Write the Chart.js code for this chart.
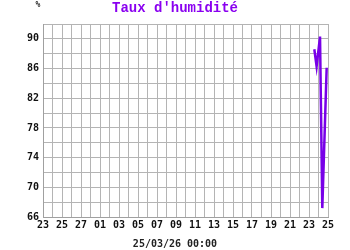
<!DOCTYPE html>
<html>
<head>
<meta charset="utf-8">
<script src="https://cdn.jsdelivr.net/npm/chart.js@4"></script>
<style>
html,body{margin:0;padding:0;background:#fff;}
#c{display:block;}
</style>
</head>
<body>
<canvas id="c" width="350" height="250"></canvas>
<script>
// Day labels from 23 Feb to 25 Mar 2026 (one grid cell per day)
const dayLabels = ['23','24','25','26','27','28','01','02','03','04','05','06','07','08','09','10',
  '11','12','13','14','15','16','17','18','19','20','21','22','23','24','25'];
// Humidity readings: x = days since 23 Feb 00:00, y = %
const timeValues = [28.56, 28.80, 29.16, 29.40, 29.86];
const humidityValues = [88.6, 86.3, 90.3, 67.2, 86.1];
const yMin = 66, yMax = 92;
const titleText = "Taux d'humidité";
const unitText = '%';
const dateText = '25/03/26 00:00';

const points = timeValues.map((t, i) => ({x: t, y: humidityValues[i]}));

const textPlugin = {
  id: 'texts',
  afterDraw(chart) {
    const ctx = chart.ctx;
    ctx.save();
    ctx.textAlign = 'center';
    ctx.textBaseline = 'middle';
    ctx.fillStyle = '#8a00f0';
    ctx.font = 'bold 14px "Liberation Mono", monospace';
    ctx.fillText(titleText, 175, 8);
    ctx.fillStyle = '#222';
    ctx.font = 'bold 8px "DejaVu Sans Mono", monospace';
    ctx.fillText(unitText, 38, 5);
    ctx.font = 'bold 10px "DejaVu Sans Mono", monospace';
    ctx.fillText(dateText, 175, 244);
    ctx.restore();
  }
};

new Chart(document.getElementById('c'), {
  type: 'line',
  data: {
    datasets: [{
      data: points,
      borderColor: '#7800e8',
      borderWidth: 2.5,
      pointRadius: 0,
      tension: 0,
      fill: false
    }]
  },
  options: {
    responsive: false,
    animation: false,
    devicePixelRatio: 1,
    layout: {padding: {top: 24, left: 0, right: 22, bottom: 0}},
    plugins: {legend: {display: false}, title: {display: false}, tooltip: {enabled: false}},
    scales: {
      x: {
        type: 'linear',
        min: 0,
        max: dayLabels.length - 1,
        afterFit(s) { s.height = 33; },
        afterBuildTicks(s) {
          s.ticks = dayLabels.map((_, i) => ({value: i}));
        },
        ticks: {
          autoSkip: false,
          maxRotation: 0,
          padding: 2,
          color: '#111',
          font: {family: '"DejaVu Sans Mono", monospace', size: 10, weight: 'bold'},
          callback: (v) => (v % 2 === 0 ? dayLabels[v] : '')
        },
        grid: {color: '#b4b4b4', lineWidth: 1, drawTicks: false},
        border: {color: '#a0a0a0', width: 1}
      },
      y: {
        min: yMin,
        max: yMax,
        afterFit(s) { s.width = 43; },
        ticks: {
          stepSize: 2,
          autoSkip: false,
          padding: 4,
          color: '#111',
          font: {family: '"DejaVu Sans Mono", monospace', size: 10, weight: 'bold'},
          callback: (v) => ((v - yMin) % 4 === 0 && v < yMax ? String(v) : '')
        },
        grid: {color: '#b4b4b4', lineWidth: 1, drawTicks: false},
        border: {color: '#a0a0a0', width: 1}
      }
    }
  },
  plugins: [textPlugin]
});
</script>
</body>
</html>
